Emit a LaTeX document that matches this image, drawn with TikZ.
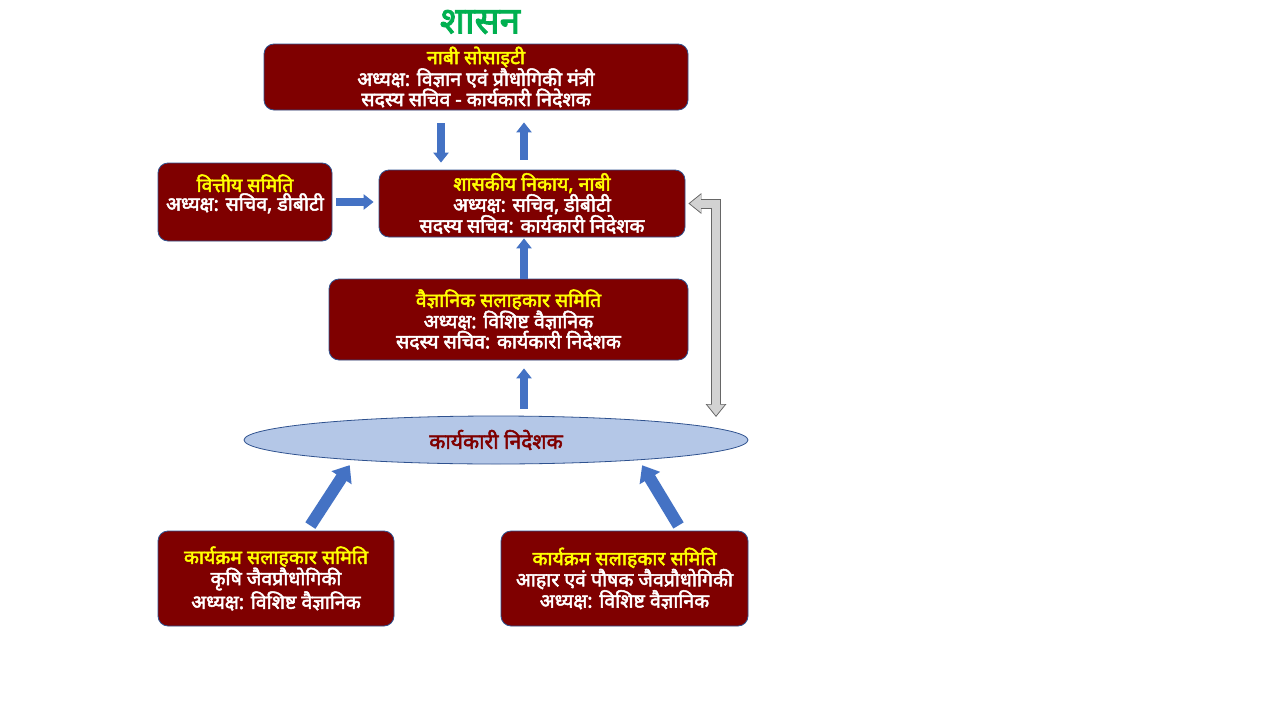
\documentclass[tikz,border=0pt]{standalone}
\usepackage{fontspec}
\newfontfamily\hindi[Script=Devanagari, BoldFont=*, BoldFeatures={FakeBold=2.5}]{Noto Sans}
\usetikzlibrary{shapes.geometric,arrows.meta}
\definecolor{boxred}{HTML}{7F0000}
\definecolor{boxedge}{HTML}{2F528F}
\definecolor{headyellow}{HTML}{FFFF00}
\definecolor{titlegreen}{HTML}{00B050}
\definecolor{edfill}{HTML}{B4C7E7}
\definecolor{arrowblue}{HTML}{4472C4}
\tikzset{box/.style={draw=boxedge, line width=0.8pt, fill=boxred, rounded corners=10pt,
    inner sep=0pt, text=white, align=center,
    font=\hindi\bfseries\fontsize{19.5}{18.8}\selectfont},
    bluearrow/.style={draw=arrowblue, line width=8pt, -{Triangle[length=10pt,width=15pt]}},
    bigarrow/.style={draw=arrowblue, line width=12pt, -{Triangle[length=15pt,width=23pt]}},
    }

\begin{document}
\begin{tikzpicture}[x=1pt,y=-1pt]
	\useasboundingbox[fill=white] (0,0) rectangle (1280,720);
	\node (title) at (480,22) [text=titlegreen, font=\hindi\bfseries\fontsize{37}{40}\selectfont] {शासन};
	\node[box, minimum width=424pt, minimum height=66pt] (nabi) at (476,77)
		{\textcolor{headyellow}{नाबी सोसाइटी}\\अध्यक्ष: विज्ञान एवं प्रौधोगिकी मंत्री\\सदस्य सचिव - कार्यकारी निदेशक};
	\node[box, minimum width=174pt, minimum height=78pt] (fin) at (245,202)
		{\textcolor{headyellow}{वित्तीय समिति}\\अध्यक्ष: सचिव, डीबीटी\\~};
	\node[box, minimum width=306pt, minimum height=67pt] (gov) at (532,203.5)
		{\textcolor{headyellow}{शासकीय निकाय, नाबी}\\अध्यक्ष: सचिव, डीबीटी\\सदस्य सचिव: कार्यकारी निदेशक};
	\node[box, minimum width=359pt, minimum height=81pt] (sac) at (508.5,319.5)
		{\textcolor{headyellow}{वैज्ञानिक सलाहकार समिति}\\अध्यक्ष: विशिष्ट वैज्ञानिक\\सदस्य सचिव: कार्यकारी निदेशक};
	\node[ellipse, draw=boxedge, line width=0.8pt, fill=edfill, inner sep=0pt,
		minimum width=504pt, minimum height=48pt, text=boxred,
		font=\hindi\bfseries\fontsize{21}{22}\selectfont] (ed) at (496,440) {कार्यकारी निदेशक};
	\node[box, minimum width=236pt, minimum height=95pt] (pac1) at (276,578.5)
		{\textcolor{headyellow}{कार्यक्रम सलाहकार समिति}\\कृषि जैवप्रौधोगिकी\\अध्यक्ष: विशिष्ट वैज्ञानिक};
	\node[box, minimum width=247pt, minimum height=95pt] (pac2) at (624.5,578.5)
		{\textcolor{headyellow}{कार्यक्रम सलाहकार समिति}\\आहार एवं पौषक जैवप्रौधोगिकी\\अध्यक्ष: विशिष्ट वैज्ञानिक};
	\coordinate (gtip) at (716,417);
	% blue arrows
	\draw[bluearrow, shorten <=13pt, shorten >=7pt] ([xshift=-35pt]nabi.south) -- ([xshift=-35pt]nabi.south |- gov.north);
	\draw[bluearrow, shorten <=10pt, shorten >=12pt] ([xshift=48pt]nabi.south |- gov.north) -- ([xshift=48pt]nabi.south);
	\draw[bluearrow, shorten <=4pt, shorten >=5pt] (fin.east) -- (fin.east -| gov.west);
	\draw[bluearrow, shorten >=1pt] ([xshift=15.5pt]sac.north) -- ([xshift=15.5pt]sac.north |- gov.south);
	\draw[bluearrow, shorten <=7pt, shorten >=8pt] ([xshift=28pt]ed.north) -- ([xshift=28pt]ed.north |- sac.south);
	\draw[bigarrow, shorten <=6pt, shorten >=6pt] (pac1.57) -- (ed.188.4);
	\draw[bigarrow, shorten <=6pt, shorten >=6pt] (pac2.40) -- (ed.352.2);
	% gray two-way arrow
	\draw[draw=gray!80!black, line width=10pt, line join=miter,
		{Triangle[length=13pt,width=20pt]}-{Triangle[length=13pt,width=20pt]}, shorten <=3pt] (gov.east) -| (gtip);
	\draw[draw=gray!35, line width=8pt, line join=miter,
		{Triangle[length=11pt,width=17pt]}-{Triangle[length=11pt,width=17pt]}, shorten <=4.5pt, shorten >=1.5pt] (gov.east) -| (gtip);
\end{tikzpicture}
\end{document}
